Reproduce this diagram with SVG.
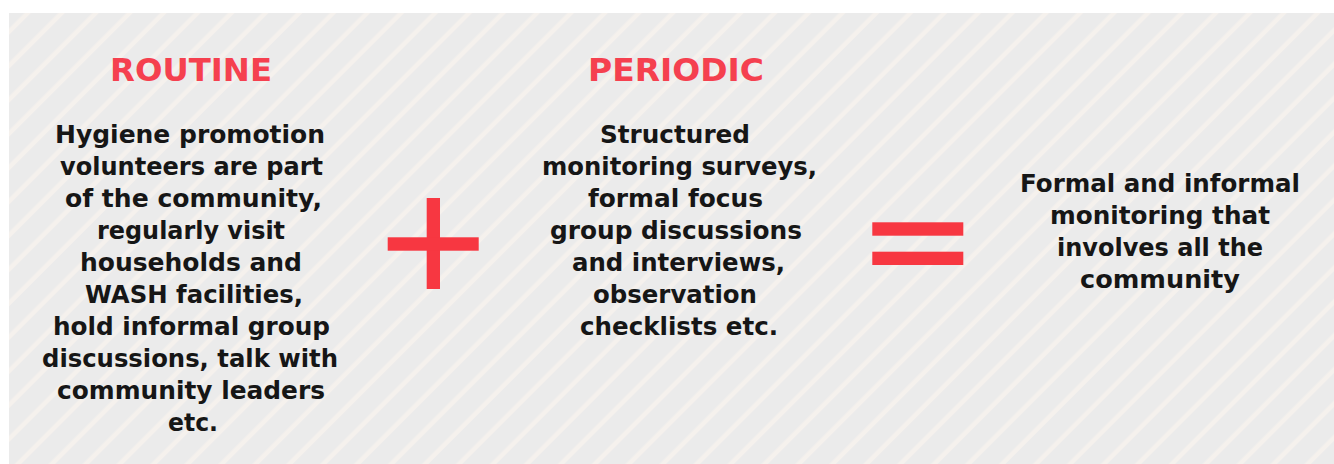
<svg xmlns="http://www.w3.org/2000/svg" width="1334" height="464" viewBox="0 0 1334 464">
<defs>
<pattern id="stripes" patternUnits="userSpaceOnUse" width="24" height="24" patternTransform="rotate(45)">
<rect x="0" y="0" width="24" height="24" fill="#ebebeb"/>
<rect x="2.5" y="0" width="4.6" height="24" fill="#f5f1ed"/>
</pattern>
<style>
.title{font-family:"DejaVu Sans",sans-serif;font-weight:bold;font-size:32px;fill:#f5404f}
.body{font-family:"DejaVu Sans",sans-serif;font-weight:bold;font-size:24px;fill:#161616}
.sym{fill:#f73741}
</style>
</defs>
<rect x="0" y="0" width="1334" height="464" fill="#ffffff"/>
<rect x="9" y="13" width="1325" height="451" fill="url(#stripes)"/>
<g id="routine">
<text class="title" x="110" y="81" textLength="162" lengthAdjust="spacingAndGlyphs">ROUTINE</text>
<text class="body" x="55" y="143" textLength="270" lengthAdjust="spacingAndGlyphs">Hygiene promotion</text>
<text class="body" x="60" y="175" textLength="263" lengthAdjust="spacingAndGlyphs">volunteers are part</text>
<text class="body" x="65" y="207" textLength="257" lengthAdjust="spacingAndGlyphs">of the community,</text>
<text class="body" x="97" y="239" textLength="188" lengthAdjust="spacingAndGlyphs">regularly visit</text>
<text class="body" x="80" y="271" textLength="222" lengthAdjust="spacingAndGlyphs">households and</text>
<text class="body" x="85" y="303" textLength="218" lengthAdjust="spacingAndGlyphs">WASH facilities,</text>
<text class="body" x="53" y="335" textLength="277" lengthAdjust="spacingAndGlyphs">hold informal group</text>
<text class="body" x="42" y="367" textLength="296" lengthAdjust="spacingAndGlyphs">discussions, talk with</text>
<text class="body" x="57" y="399" textLength="268" lengthAdjust="spacingAndGlyphs">community leaders</text>
<text class="body" x="168" y="431" textLength="50" lengthAdjust="spacingAndGlyphs">etc.</text>
</g>
<g id="plus">
<rect class="sym" x="426.7" y="198" width="13.3" height="91"/>
<rect class="sym" x="387.7" y="237.3" width="91" height="13.4"/>
</g>
<g id="periodic">
<text class="title" x="588" y="81" textLength="176" lengthAdjust="spacingAndGlyphs">PERIODIC</text>
<text class="body" x="600" y="143" textLength="150" lengthAdjust="spacingAndGlyphs">Structured</text>
<text class="body" x="542" y="175" textLength="275" lengthAdjust="spacingAndGlyphs">monitoring surveys,</text>
<text class="body" x="588" y="207" textLength="175" lengthAdjust="spacingAndGlyphs">formal focus</text>
<text class="body" x="550" y="239" textLength="252" lengthAdjust="spacingAndGlyphs">group discussions</text>
<text class="body" x="572" y="271" textLength="213" lengthAdjust="spacingAndGlyphs">and interviews,</text>
<text class="body" x="593" y="303" textLength="164" lengthAdjust="spacingAndGlyphs">observation</text>
<text class="body" x="580" y="335" textLength="198" lengthAdjust="spacingAndGlyphs">checklists etc.</text>
</g>
<g id="equals">
<rect class="sym" x="872.3" y="222.3" width="91" height="13.4"/>
<rect class="sym" x="872.3" y="251.7" width="91" height="13.3"/>
</g>
<g id="result">
<text class="body" x="1020" y="192" textLength="280" lengthAdjust="spacingAndGlyphs">Formal and informal</text>
<text class="body" x="1050" y="224" textLength="220" lengthAdjust="spacingAndGlyphs">monitoring that</text>
<text class="body" x="1057" y="256" textLength="206" lengthAdjust="spacingAndGlyphs">involves all the</text>
<text class="body" x="1080" y="288" textLength="160" lengthAdjust="spacingAndGlyphs">community</text>
</g>
<g id="connectors"></g>
</svg>
